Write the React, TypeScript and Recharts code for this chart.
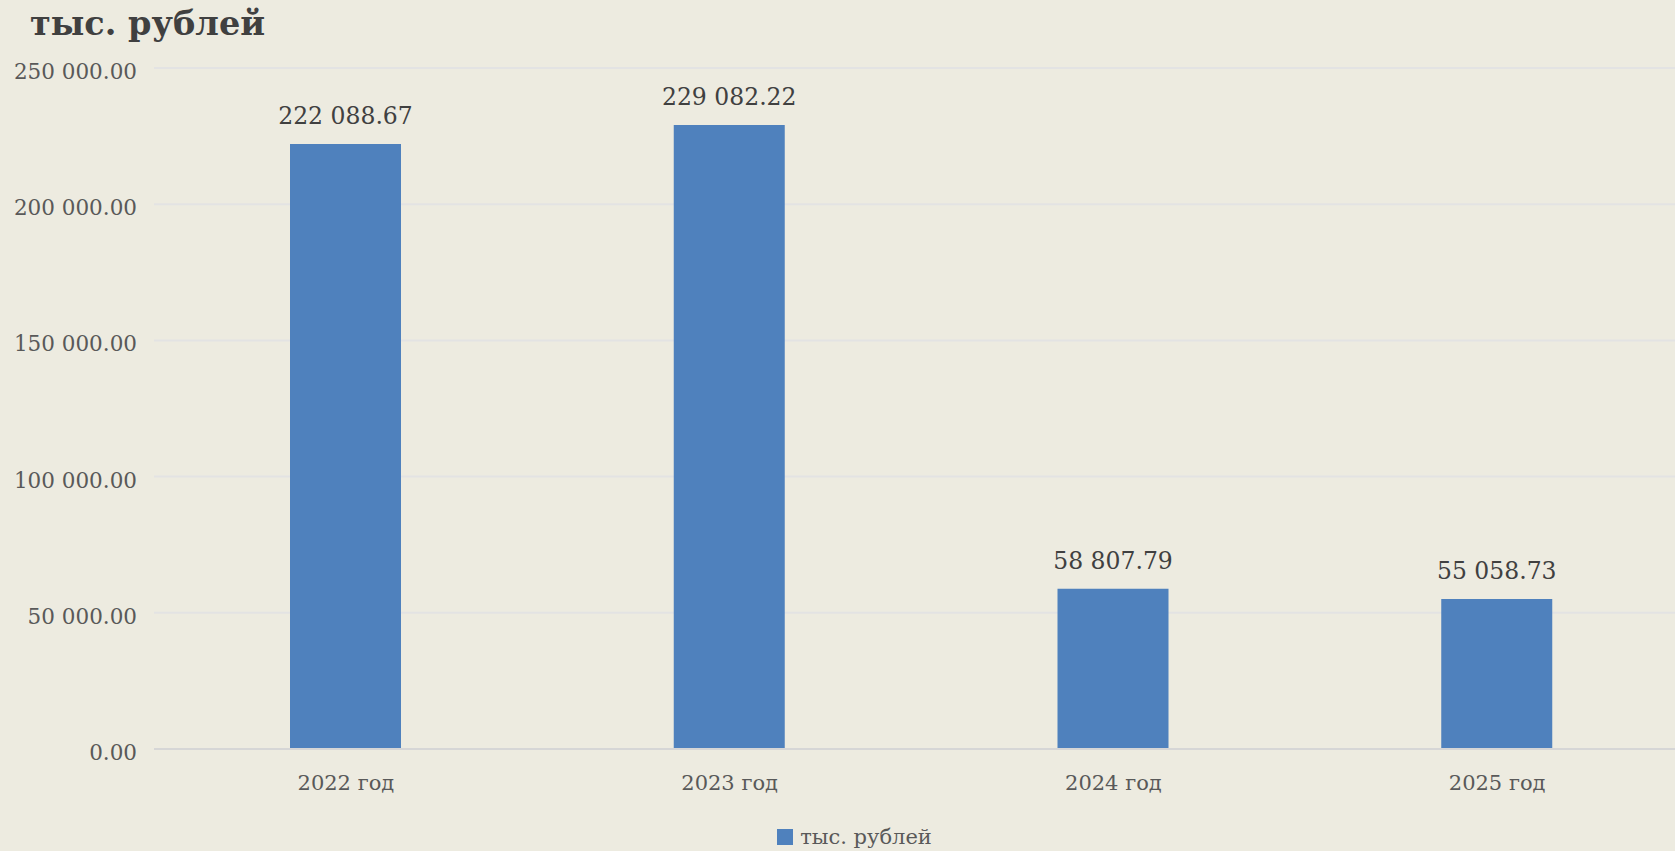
import React from 'react';
import { BarChart, Bar, XAxis, YAxis, CartesianGrid, Legend, LabelList } from 'recharts';

const years = ['2022 год', '2023 год', '2024 год', '2025 год'];
const amounts = [222088.67, 229082.22, 58807.79, 55058.73];
const yTicks = [0, 50000, 100000, 150000, 200000, 250000];

const seriesName = 'тыс. рублей';
const FONT = '"DejaVu Serif", Georgia, serif';
const BG = '#EDEBE0';
const BAR = '#4F81BD';

const fmt = (v: number) => {
  const [int, dec] = v.toFixed(2).split('.');
  return int.replace(/\B(?=(\d{3})+(?!\d))/g, ' ') + '.' + dec;
};

const data = years.map((y, i) => ({ year: y, value: amounts[i] }));

const YTick = (props: any) => {
  const { x, y, payload } = props;
  return (
    <text x={x} y={y + 11} textAnchor="end" fontFamily={FONT} fontSize={21.5} fill="#595959">
      {fmt(payload.value)}
    </text>
  );
};

const XTick = (props: any) => {
  const { x, y, payload } = props;
  return (
    <text x={x} y={y + 39} textAnchor="middle" fontFamily={FONT} fontSize={21} fill="#595959">
      {payload.value}
    </text>
  );
};

const ValueLabel = (props: any) => {
  const { x, y, width, value } = props;
  return (
    <text x={x + width / 2} y={y - 20} textAnchor="middle" fontFamily={FONT} fontSize={23.5} fill="#404040">
      {fmt(value)}
    </text>
  );
};

const LegendBox = () => (
  <div
    style={{
      display: 'flex',
      alignItems: 'center',
      justifyContent: 'center',
      height: 40,
      paddingTop: 12,
      paddingLeft: 20,
      boxSizing: 'border-box',
      fontFamily: FONT,
      fontSize: 21,
      color: '#595959',
    }}
  >
    <span style={{ display: 'inline-block', width: 16, height: 16, background: BAR, marginRight: 7 }} />
    <span>{seriesName}</span>
  </div>
);

export default function App() {
  return (
    <div style={{ position: 'fixed', left: 0, top: 0, width: 1675, height: 851, overflow: 'hidden', background: BG }}>
      <div
        style={{
          position: 'absolute',
          left: 30,
          top: 4,
          fontFamily: FONT,
          fontWeight: 'bold',
          fontSize: 33.5,
          color: '#404040',
          lineHeight: '40px',
        }}
      >
        {seriesName}
      </div>
      <BarChart width={1710} height={851} data={data} margin={{ top: 68, right: 21, bottom: 0, left: 0 }}>
        <CartesianGrid vertical={false} stroke="#E3E3E3" strokeWidth={2} />
        <XAxis
          dataKey="year"
          height={62}
          tickLine={false}
          tickSize={0}
          axisLine={{ stroke: '#D6D6D6', strokeWidth: 2 }}
          tick={<XTick />}
        />
        <YAxis
          width={154}
          domain={[0, 250000]}
          ticks={yTicks}
          tickLine={false}
          tickSize={0}
          tickMargin={17}
          axisLine={false}
          tick={<YTick />}
        />
        <Legend verticalAlign="bottom" height={40} content={<LegendBox />} />
        <Bar dataKey="value" name={seriesName} fill={BAR} barSize={111} isAnimationActive={false}>
          <LabelList dataKey="value" content={<ValueLabel />} />
        </Bar>
      </BarChart>
    </div>
  );
}
